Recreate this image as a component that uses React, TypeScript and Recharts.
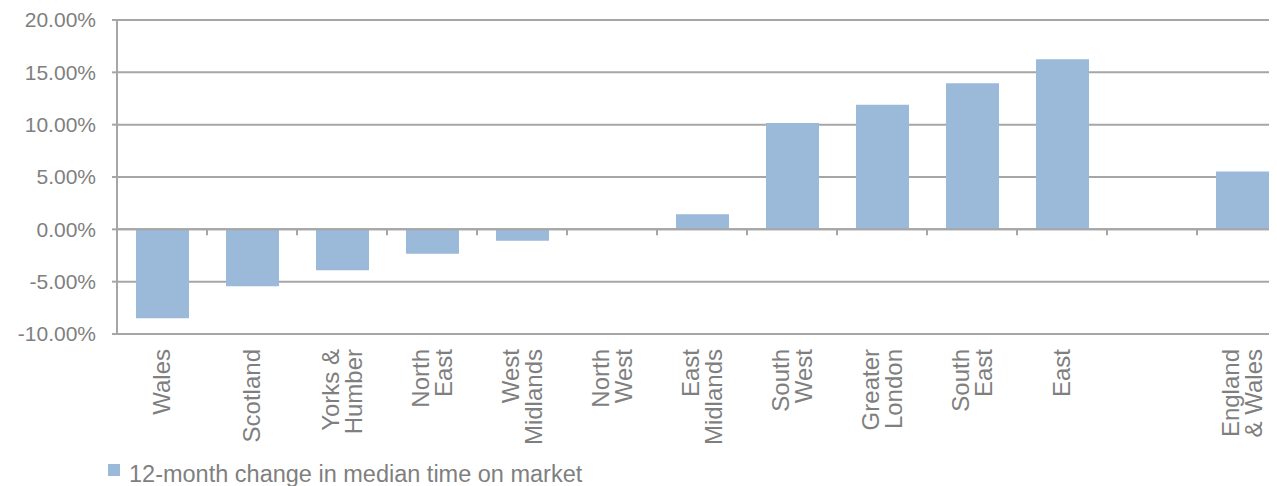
import { BarChart, Bar, XAxis, YAxis, CartesianGrid, ReferenceLine, Legend } from 'recharts';

// Regional change in median time on market, percent
const regions = [
    'Wales',
    'Scotland',
    'Yorks &\nHumber',
    'North\nEast',
    'West\nMidlands',
    'North\nWest',
    'East\nMidlands',
    'South\nWest',
    'Greater\nLondon',
    'South\nEast',
    'East',
    '',
    'England\n& Wales'
];
const changePct = [-8.5, -5.43, -3.9, -2.33, -1.08, 0, 1.44, 10.15, 11.9, 13.95, 16.25, null, 5.53];
const yTicks = [-10, -5, 0, 5, 10, 15, 20];
const seriesName = '12-month change in median time on market';

const data = regions.map((region, i) => ({ region, change: changePct[i] }));

const FONT = '"Liberation Sans", Arial, sans-serif';
const GREY_TEXT = '#7f7f7f';
const GREY_LINE = '#a6a6a6';
const BAR_BLUE = '#9bb9d9';

const RegionTick = ({ x, y, payload }: any) => {
    const lines = String(payload.value).split('\n');
    const lineHeight = 23;
    return (
        <g transform={`translate(${x},${y + 15}) rotate(-90)`}>
            <text textAnchor="end" fill={GREY_TEXT} fontSize={24} fontFamily={FONT}>
                {lines.map((line, i) => (
                    <tspan key={i} x={0} y={(i - (lines.length - 1) / 2) * lineHeight} dy="0.35em">
                        {line}
                    </tspan>
                ))}
            </text>
        </g>
    );
};

// zero line with the category boundary ticks hanging below it
const ZeroAxis = (props: any) => {
    const { x1, x2, y1 } = props;
    const step = (x2 - x1) / regions.length;
    return (
        <g>
            <line x1={x1} x2={x2} y1={y1} y2={y1} stroke={GREY_LINE} strokeWidth={2} />
            {regions.map((_, i) => (
                <line
                    key={i}
                    x1={x1 + step * (i + 1)}
                    x2={x1 + step * (i + 1)}
                    y1={y1}
                    y2={y1 + 6}
                    stroke={GREY_LINE}
                    strokeWidth={2}
                />
            ))}
        </g>
    );
};

const SeriesLegend = ({ payload }: any) => (
    <div style={{ display: 'flex', alignItems: 'flex-start', fontFamily: FONT, paddingTop: 3 }}>
        {(payload || []).map((entry: any) => (
            <div key={entry.value} style={{ display: 'flex', alignItems: 'flex-start' }}>
                <span
                    style={{
                        width: 12,
                        height: 12,
                        marginTop: 2,
                        marginRight: 9,
                        background: entry.color
                    }}
                />
                <span style={{ color: GREY_TEXT, fontSize: 23.5, lineHeight: '24px' }}>{entry.value}</span>
            </div>
        ))}
    </div>
);

export default function App() {
    return (
        <div style={{ width: 1269, height: 478, overflow: 'hidden' }}>
            <BarChart
                width={1279}
                height={478}
                data={data}
                margin={{ top: 12, right: 0, left: 0, bottom: 0 }}
            >
                <CartesianGrid vertical={false} stroke={GREY_LINE} strokeWidth={2} />
                <XAxis
                    dataKey="region"
                    interval={0}
                    height={125}
                    axisLine={false}
                    tickLine={false}
                    tickSize={0}
                    tickMargin={0}
                    tick={<RegionTick />}
                />
                <YAxis
                    width={109}
                    domain={[-10, 20]}
                    ticks={yTicks}
                    interval={0}
                    tickSize={5}
                    tickMargin={16}
                    axisLine={{ stroke: GREY_LINE, strokeWidth: 2 }}
                    tickLine={{ stroke: GREY_LINE, strokeWidth: 2 }}
                    tick={{ fill: GREY_TEXT, fontSize: 21, fontFamily: FONT }}
                    tickFormatter={(v: number) => `${v.toFixed(2)}%`}
                />
                <Legend
                    verticalAlign="bottom"
                    align="left"
                    wrapperStyle={{ left: 100 }}
                    content={<SeriesLegend />}
                />
                <Bar
                    dataKey="change"
                    name={seriesName}
                    fill={BAR_BLUE}
                    barSize={53}
                    isAnimationActive={false}
                />
                <ReferenceLine y={0} shape={<ZeroAxis />} />
            </BarChart>
        </div>
    );
}
